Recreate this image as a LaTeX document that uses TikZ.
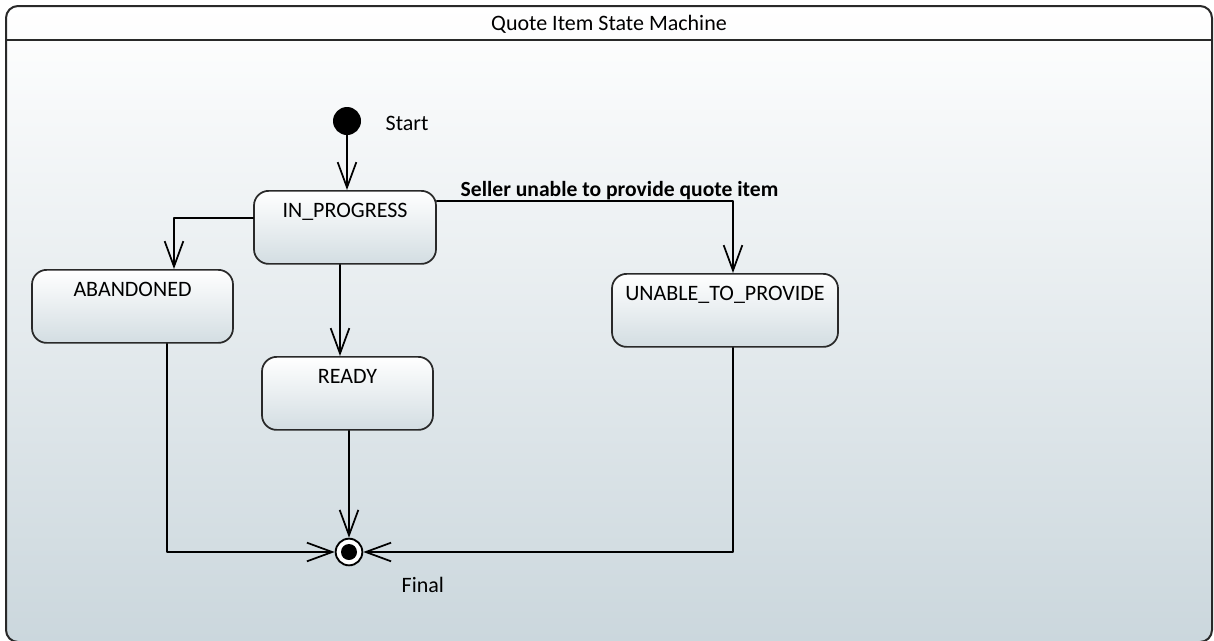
\documentclass[tikz,border=0pt]{standalone}
\usepackage{fontspec}
\setmainfont{Carlito}
\usepackage{tikz}
\usetikzlibrary{arrows.meta}
\newcommand{\umlfont}{\fontsize{16.5}{20}\selectfont}
\definecolor{ccd7dd}{rgb}{0.796,0.843,0.866}
\definecolor{d4dee2}{rgb}{0.827,0.867,0.886}
\definecolor{qqqqqq}{rgb}{0.16,0.16,0.16}
\tikzstyle{every node}=[font=\umlfont,text=black]
\tikzstyle{state}=[draw=qqqqqq,line width=1.3pt,rounded corners=11pt,top color=white,bottom color=d4dee2,anchor=north,inner xsep=0pt,inner ysep=0pt,text height=20.25pt,text depth=34.5pt]
\tikzstyle{trans}=[->,line width=1.3pt,color=black]

\begin{document}
\begin{tikzpicture}[line cap=round,line join=round,>={Straight Barb[length=19pt,width=14pt]},x=0.75pt,y=-0.75pt]
            \useasboundingbox (0,0) rectangle (1214,640);
            \clip (0,0) rectangle (1214,640);
            % frame of the machine
            \shade[top color=white,bottom color=ccd7dd,draw=qqqqqq,line width=1.5pt,rounded corners=9pt] (6,6) rectangle (1212,642);
            \draw[qqqqqq,line width=1.5pt] (6,40) -- (1212,40);
            \node (title) at (609,24) {Quote Item State Machine};
            % states
            \node[circle,fill=black,minimum size=21pt,inner sep=0pt] (start) at (347,121) {};
            \node[anchor=base west] (startlabel) at (381,130) {Start};
            \node[state,minimum width=136.5pt] (inprogress) at (345,190) {IN\_PROGRESS};
            \node[state,minimum width=150.75pt] (abandoned) at (132.5,269) {ABANDONED};
            \node[state,minimum width=128.25pt] (ready) at (347.5,356) {READY};
            \node[state,minimum width=169.5pt] (unable) at (725,273) {UNABLE\_TO\_PROVIDE};
            \node[circle,draw=black,line width=1.4pt,fill=white,minimum size=20pt,inner sep=0pt,path picture={\fill[black] (path picture bounding box.center) circle (6pt);}] (final) at (349,552) {};
            \node[anchor=base west] (finallabel) at (397,592) {Final};
            % transitions
            \draw[trans] (start) -- (start |- inprogress.north);
            \draw[trans] (inprogress.west |- 0,218) -| (abandoned.north -| 174,0);
            \draw[trans] (inprogress.south -| 340,0) -- (ready.north -| 340,0);
            \draw[trans] (inprogress.east |- 0,201) -| (unable.north -| 733,0);
            \node[anchor=base west,font=\fontsize{16.2}{20}\selectfont\bfseries] (seller) at (456,196) {Seller unable to provide quote item};
            \draw[trans] (abandoned.south -| 167,0) |- (final.west);
            \draw[trans] (final |- ready.south) -- (final.north);
            \draw[trans] (unable.south -| 733,0) |- (final.east);
        \end{tikzpicture}
\end{document}
